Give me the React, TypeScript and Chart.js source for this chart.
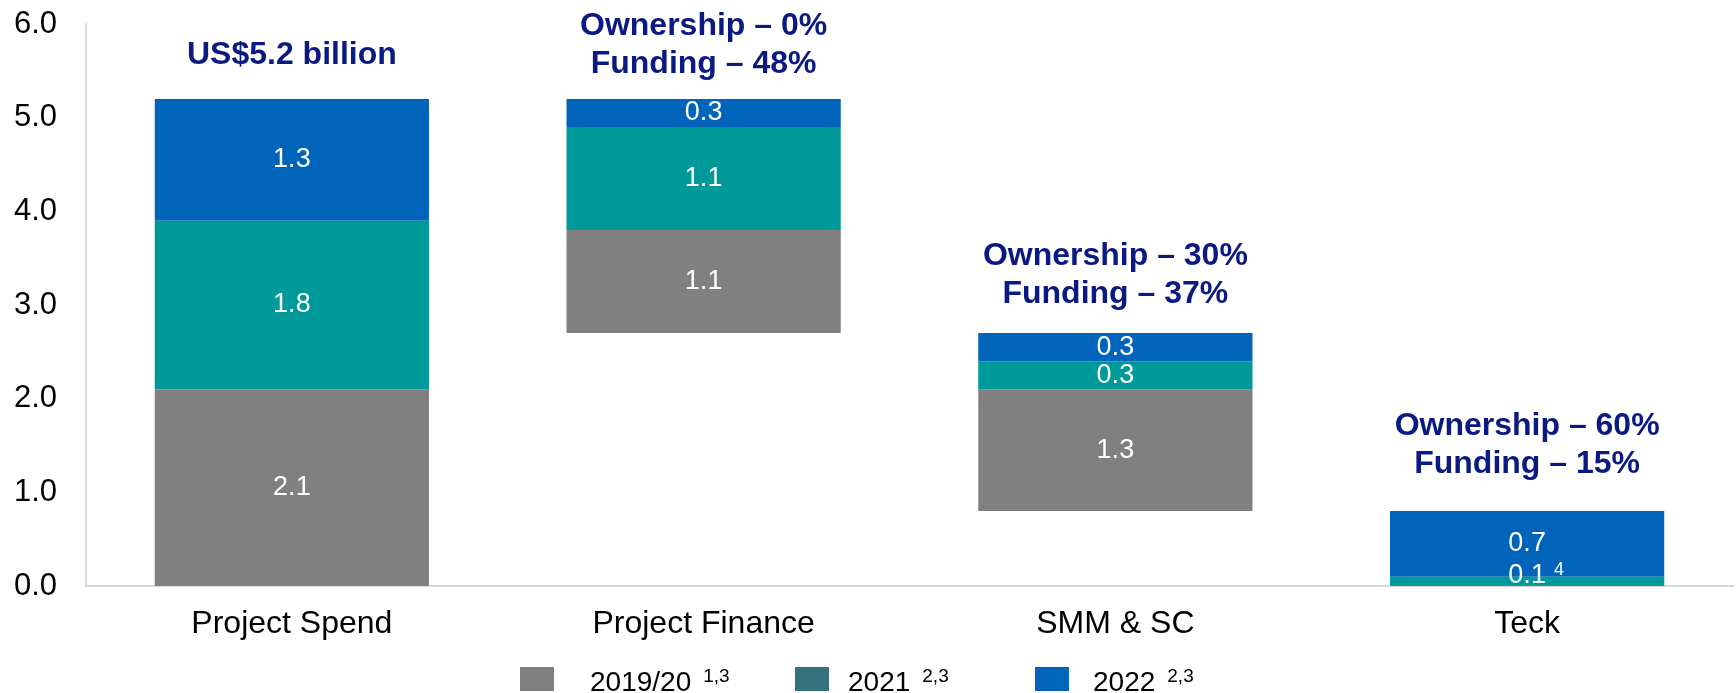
import React, { useEffect, useRef } from 'react';
import { Chart, registerables } from 'chart.js';

Chart.register(...registerables);

const FONT = '"Liberation Sans", Arial, Helvetica, sans-serif';

// ---- data ----
const categories = ['Project Spend', 'Project Finance', 'SMM & SC', 'Teck'];
const baseValues = [0, 2.7, 0.8, 0];
const values2019 = [2.1, 1.1, 1.3, 0];
const values2021 = [1.8, 1.1, 0.3, 0.1];
const values2022 = [1.3, 0.3, 0.3, 0.7];
const notes2019 = ['', '', '', ''];
const notes2021 = ['', '', '', '4'];
const notes2022 = ['', '', '', ''];
const seriesNames = ['2019/20', '2021', '2022'];
const seriesNotes = ['1,3', '2,3', '2,3'];
const headlines = [
  ['US$5.2 billion'],
  ['Ownership – 0%', 'Funding – 48%'],
  ['Ownership – 30%', 'Funding – 37%'],
  ['Ownership – 60%', 'Funding – 15%'],
];
const yMin = 0;
const yMax = 6;
const yStep = 1;

// ---- styles ----
const barColors = ['#808080', '#009999', '#0064BA'];
const legendColors = ['#808080', '#37717F', '#0064BA'];
const navy = '#0B1A82';

const series = [values2019, values2021, values2022];
const seriesSegNotes = [notes2019, notes2021, notes2022];

const ranges = series.map((vals, s) =>
  vals.map((v, i) => {
    let start = baseValues[i];
    for (let k = 0; k < s; k++) start += series[k][i];
    return v > 0 ? [start, start + v] : null;
  })
);
const totals = categories.map(
  (_, i) => baseValues[i] + series.reduce((a, arr) => a + arr[i], 0)
);

const overlayPlugin = {
  id: 'overlay',
  afterDatasetsDraw(chart: any, _args: any, opts: any) {
    const ctx = chart.ctx as CanvasRenderingContext2D;
    const area = chart.chartArea;
    ctx.save();
    // segment value labels
    chart.data.datasets.forEach((_ds: any, s: number) => {
      const meta = chart.getDatasetMeta(s);
      meta.data.forEach((bar: any, i: number) => {
        const v = series[s][i];
        if (!v) return;
        const p = bar.getProps(['x', 'y', 'base'], true);
        let cy = (p.y + p.base) / 2;
        cy = Math.min(cy, area.bottom - 10);
        const txt = v.toFixed(1);
        ctx.fillStyle = '#FFFFFF';
        ctx.font = `27px ${FONT}`;
        ctx.textBaseline = 'middle';
        ctx.textAlign = 'center';
        ctx.fillText(txt, p.x, cy);
        const note = seriesSegNotes[s][i];
        if (note) {
          const w = ctx.measureText(txt).width;
          ctx.font = `18px ${FONT}`;
          ctx.textAlign = 'left';
          ctx.fillText(note, p.x + w / 2 + 8, cy - 6);
        }
      });
    });
    // headlines
    const yScale = chart.scales.y;
    const xScale = chart.scales.x;
    ctx.fillStyle = navy;
    ctx.font = `bold 32px ${FONT}`;
    ctx.textAlign = 'center';
    ctx.textBaseline = 'alphabetic';
    headlines.forEach((lines, i) => {
      const x = xScale.getPixelForValue(i);
      const top = yScale.getPixelForValue(totals[i]);
      const lastBase = top - opts.gaps[i];
      lines.forEach((line, j) => {
        const y = lastBase - (lines.length - 1 - j) * opts.lineHeight;
        ctx.fillText(line, x, y);
      });
    });
    ctx.restore();
  },
  afterDraw(chart: any, _args: any, opts: any) {
    const ctx = chart.ctx as CanvasRenderingContext2D;
    ctx.save();
    seriesNames.forEach((name, i) => {
      const lg = opts.legend;
      ctx.fillStyle = legendColors[i];
      ctx.fillRect(lg.boxX[i], lg.boxY, lg.boxW, lg.boxH);
      ctx.fillStyle = '#000';
      ctx.font = `28px ${FONT}`;
      ctx.textAlign = 'left';
      ctx.textBaseline = 'alphabetic';
      ctx.fillText(name, lg.textX[i], lg.baseline);
      const w = ctx.measureText(name).width;
      ctx.font = `19px ${FONT}`;
      ctx.fillText(seriesNotes[i], lg.textX[i] + w + 12, lg.baseline - 9);
    });
    ctx.restore();
  },
};

export default function App() {
  const canvasRef = useRef<HTMLCanvasElement | null>(null);

  useEffect(() => {
    const canvas = canvasRef.current;
    if (!canvas) return;
    const chart = new Chart(canvas, {
      type: 'bar',
      data: {
        labels: categories,
        datasets: seriesNames.map((name, s) => ({
          label: name,
          data: ranges[s] as any,
          backgroundColor: barColors[s],
          borderWidth: 0,
          grouped: false,
          barPercentage: 0.666,
          categoryPercentage: 1,
        })),
      },
      options: {
        responsive: false,
        animation: false,
        devicePixelRatio: 1,
        layout: { padding: { top: 24, right: 3, left: 0, bottom: 0 } },
        plugins: {
          legend: { display: false },
          tooltip: { enabled: false },
          overlay: {
            gaps: [35, 26, 30, 38],
            lineHeight: 38,
            legend: {
              boxX: [520, 795, 1035],
              boxY: 667,
              boxW: 34,
              boxH: 24,
              textX: [590, 848, 1093],
              baseline: 691,
            },
          },
        } as any,
        scales: {
          x: {
            grid: { display: false, drawTicks: false },
            border: { display: true, color: '#D9D9D9', width: 2 },
            ticks: {
              color: '#000',
              font: { family: FONT, size: 32 },
              padding: 19,
            },
            afterFit: (s: any) => {
              s.height = 107;
              s.paddingLeft = 0;
              s.paddingRight = 0;
            },
          },
          y: {
            min: yMin,
            max: yMax,
            grid: { display: false, drawTicks: false },
            border: { display: true, color: '#D9D9D9', width: 2 },
            ticks: {
              stepSize: yStep,
              color: '#000',
              font: { family: FONT, size: 31 },
              padding: 29,
              callback: (v: any) => Number(v).toFixed(1),
            },
            afterFit: (s: any) => {
              s.width = 86;
              s.paddingTop = 0;
              s.paddingBottom = 0;
            },
          },
        },
      },
      plugins: [overlayPlugin],
    });
    return () => chart.destroy();
  }, []);

  return (
    <div style={{ position: 'fixed', left: 0, top: 0, width: 1736, height: 693, background: '#fff' }}>
      <canvas ref={canvasRef} width={1736} height={693} style={{ width: 1736, height: 693 }} />
    </div>
  );
}
